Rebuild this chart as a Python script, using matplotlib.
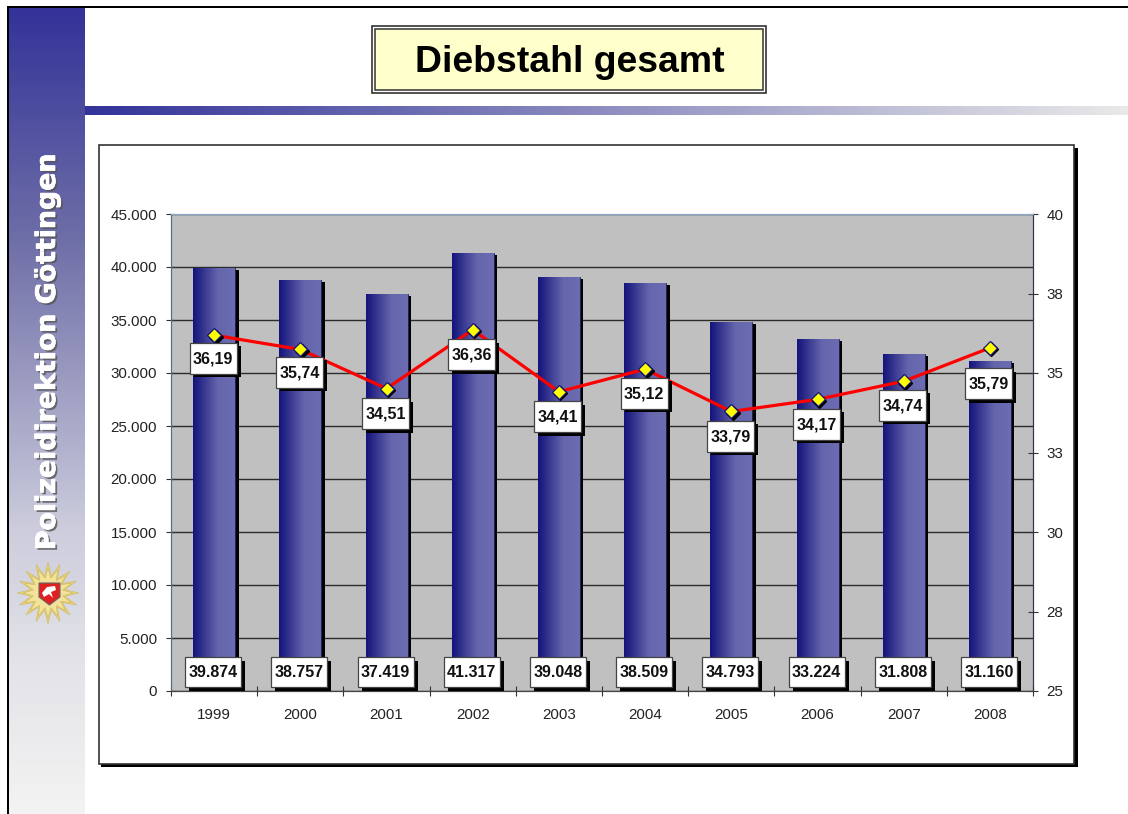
import numpy as np
import matplotlib
matplotlib.use("Agg")
import matplotlib.pyplot as plt
import matplotlib.patheffects as pe
from matplotlib.colors import LinearSegmentedColormap
from matplotlib.patches import Rectangle, Polygon
from matplotlib.transforms import ScaledTranslation, blended_transform_factory, Affine2D

plt.rcParams['font.family'] = ['Liberation Sans', 'DejaVu Sans']

years = ['1999', '2000', '2001', '2002', '2003', '2004', '2005', '2006', '2007', '2008']
cases = [39874, 38757, 37419, 41317, 39048, 38509, 34793, 33224, 31808, 31160]
case_labels = ['39.874', '38.757', '37.419', '41.317', '39.048', '38.509', '34.793', '33.224', '31.808', '31.160']
rate = [36.19, 35.74, 34.51, 36.36, 34.41, 35.12, 33.79, 34.17, 34.74, 35.79]
rate_labels = ['36,19', '35,74', '34,51', '36,36', '34,41', '35,12', '33,79', '34,17', '34,74', '35,79']
rate_label_drop = [23, 23, 25, 25, 25, 24, 25, 25, 24, 36]
left_ticks = [0, 5000, 10000, 15000, 20000, 25000, 30000, 35000, 40000, 45000]
left_tick_labels = ['0', '5.000', '10.000', '15.000', '20.000', '25.000', '30.000', '35.000', '40.000', '45.000']
right_ticks = [25, 27.5, 30, 32.5, 35, 37.5, 40]
right_tick_labels = ['25', '28', '30', '33', '35', '38', '40']

W, H = 1128, 814
fig = plt.figure(figsize=(W / 100, H / 100), dpi=100, facecolor='white')

# Page furniture, in pixel coordinates
bg = fig.add_axes([0, 0, 1, 1], zorder=0)
bg.axis('off')
side = LinearSegmentedColormap.from_list('side', [(0, '#333399'), (0.29, '#6f6fa8'), (0.65, '#cdcddd'),
                                                  (0.82, '#e4e4e9'), (1, '#f3f3f3')])
bg.imshow(np.linspace(0, 1, 256)[:, None], cmap=side, extent=[9, 85, 814, 8], aspect='auto', zorder=1)
band = LinearSegmentedColormap.from_list('band', ['#333399', '#e9e9e9'])
bg.imshow(np.linspace(0, 1, 256)[None, :], cmap=band, extent=[85, W, 115, 106], aspect='auto', zorder=1)
bg.set_xlim(0, W)
bg.set_ylim(H, 0)
bg.add_patch(Rectangle((7, 6), W - 7, 2, fc='black', ec='none', zorder=3))
bg.add_patch(Rectangle((7, 6), 2, H - 6, fc='black', ec='none', zorder=3))

# Title plate
bg.add_patch(Rectangle((372, 25.5), 394, 67.5, fc='white', ec='#222222', lw=1.1, zorder=3))
bg.add_patch(Rectangle((375, 28.5), 388, 61.5, fc='#ffffcc', ec='#333333', lw=1.1, zorder=3))
bg.text(569.5, 58, 'Diebstahl gesamt', fontsize=26.9, fontweight='bold', color='black',
        ha='center', va='center_baseline', zorder=4)

# Chart frame
bg.add_patch(Rectangle((101, 148), 977, 619, fc='black', ec='none', zorder=2))
bg.add_patch(Rectangle((98.5, 145), 975.5, 618.5, fc='white', ec='#333333', lw=1.2, zorder=3))

# Sidebar caption and emblem
bg.text(48, 352, 'Polizeidirektion Göttingen', rotation=90, fontsize=19.3, fontweight='bold',
        family='DejaVu Sans', color='white', ha='center', va='center', zorder=4,
        path_effects=[pe.withSimplePatchShadow(offset=(1.5, -1.5), shadow_rgbFace='#555555', alpha=0.8),
                      pe.Stroke(linewidth=0.5, foreground='white'), pe.Normal()])
ang = np.linspace(0, 2 * np.pi, 33)[:-1]
for r_long, r_in, col in [(31, 17, '#e6d27a'), (25, 15, '#f2e29a')]:
    rad = np.where(np.arange(32) % 2 == 0, r_long, r_in)
    bg.add_patch(Polygon(np.c_[48 + rad * np.cos(ang), 593 + rad * np.sin(ang)], fc=col, ec='#cdb85e', lw=0.4, zorder=3))
bg.add_patch(Polygon([(39, 583), (60, 583), (60, 597), (49.5, 605), (39, 597)], fc='#e02020', ec='#666666', lw=0.8, zorder=4))
bg.add_patch(Polygon([(42, 593), (47, 587), (55, 586), (56, 590), (51, 592), (53, 598), (49, 594), (44, 597)],
                     fc='white', ec='none', zorder=5))

# Chart axes
L, R, T, B = 171, 1033, 214, 691
ax = fig.add_axes([L / W, 1 - B / H, (R - L) / W, (B - T) / H], zorder=2, facecolor='#c0c0c0')
x = np.arange(len(years))
ax.set_xlim(-0.5, len(years) - 0.5)
ax.set_ylim(0, 45000)
ax.set_axisbelow(True)
ax.yaxis.grid(True, color='#2b2b2b', lw=1.0)
ax.set_yticks(left_ticks, left_tick_labels)
ax.set_xticks(np.arange(-0.5, len(years)), [''] * (len(years) + 1))
ax.set_xticks(x, years, minor=True)
ax.tick_params(axis='y', direction='inout', length=7.2, width=0.8, color='#333333', labelsize=10.9,
               labelcolor='#222222', pad=6.5)
ax.tick_params(axis='x', which='major', direction='inout', length=7.2, width=0.8, color='#333333')
ax.tick_params(axis='x', which='minor', length=0, labelsize=10.9, labelcolor='#222222', pad=12)
for s, c in [('left', '#5d6d80'), ('right', '#303848'), ('top', '#8cabd0'), ('bottom', '#444444')]:
    ax.spines[s].set_color(c)
    ax.spines[s].set_linewidth(0.8)

bar_w = 42 / ((R - L) / len(years))
shadow = ScaledTranslation(3.5 / 100, -2 / 100, fig.dpi_scale_trans)
ax.bar(x, cases, bar_w, color='black', transform=ax.transData + shadow, zorder=2)
bars = ax.bar(x, cases, bar_w, color='#3a3a90', edgecolor='#222255', lw=0.6, zorder=3)
grad = LinearSegmentedColormap.from_list('bar', [(0, '#14147c'), (0.6, '#6565ad'), (1, '#6c6cb2')])
for b in bars:
    im = ax.imshow(np.linspace(0, 1, 64)[None, :], cmap=grad, aspect='auto', zorder=3.1,
                   extent=[b.get_x(), b.get_x() + b.get_width(), 0, b.get_height()])
    im.set_clip_path(b)
ax.set_xlim(-0.5, len(years) - 0.5)
ax.set_ylim(0, 45000)

ax2 = ax.twinx()
ax2.set_zorder(3)
ax2.patch.set_visible(False)
ax2.set_ylim(25, 40)
ax2.set_yticks(right_ticks, right_tick_labels)
ax2.tick_params(axis='y', direction='inout', length=7.2, width=0.8, color='#333333', labelsize=10.9,
                labelcolor='#222222', pad=6)
for s, c in [('left', '#5d6d80'), ('right', '#303848'), ('top', '#8cabd0'), ('bottom', '#444444')]:
    ax2.spines[s].set_color(c)
    ax2.spines[s].set_linewidth(0.8)
mark_shadow = ScaledTranslation(1.5 / 100, -1.5 / 100, fig.dpi_scale_trans)
ax2.plot(x, rate, color='red', lw=2.3, zorder=4)
ax2.plot(x, rate, ls='none', marker='D', ms=7.2, mfc='black', mec='black',
         transform=ax2.transData + mark_shadow, zorder=4.5)
ax2.plot(x, rate, ls='none', marker='D', ms=7.2, mfc='#ffff00', mec='#14147c', mew=0.9, zorder=5)


def label_box(axes, trans, xv, yv, dy, w, h, txt, fs):
    anchor = ScaledTranslation(xv, yv, trans)
    off = Affine2D().translate(-1, dy)
    axes.add_patch(Rectangle((-w / 2 + 4, -h / 2 - 3.5), w, h, fc='black', ec='none',
                             transform=off + anchor, clip_on=False, zorder=6))
    axes.add_patch(Rectangle((-w / 2, -h / 2), w, h, fc='white', ec='#444444', lw=0.9,
                             transform=off + anchor, clip_on=False, zorder=7))
    axes.text(0, -0.5, txt, fontsize=fs, fontweight='bold', color='#111111', ha='center', va='center',
              transform=off + anchor, zorder=8)


bottom_trans = blended_transform_factory(ax2.transData, ax2.transAxes)
for xi, t in zip(x, case_labels):
    label_box(ax2, bottom_trans, xi, 0, 19, 56, 30, t, 11.5)
for xi, v, t, d in zip(x, rate, rate_labels, rate_label_drop):
    label_box(ax2, ax2.transData, xi, v, -d, 47, 31, t, 11.5)

fig.savefig('out.png', dpi=100)
